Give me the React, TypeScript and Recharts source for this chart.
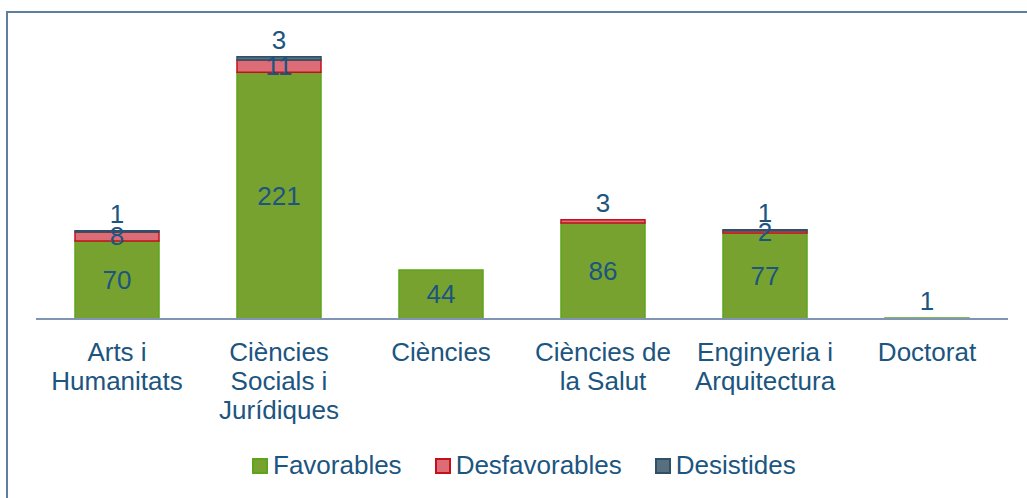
import React from "react";
import { Bar, BarChart, LabelList, XAxis, YAxis } from "recharts";

const categories = [
  "Arts i\nHumanitats",
  "Ciències\nSocials i\nJurídiques",
  "Ciències",
  "Ciències de\nla Salut",
  "Enginyeria i\nArquitectura",
  "Doctorat",
];
const favorables = [70, 221, 44, 86, 77, 1];
const desfavorables = [8, 11, 0, 3, 2, 0];
const desistides = [1, 3, 0, 0, 1, 0];

const series = [
  { key: "favorables", name: "Favorables", values: favorables, fill: "#78A22F", stroke: "#5CA41C" },
  { key: "desfavorables", name: "Desfavorables", values: desfavorables, fill: "#DC6C76", stroke: "#C4101C" },
  { key: "desistides", name: "Desistides", values: desistides, fill: "#56707F", stroke: "#2F5068" },
];

const data = categories.map((c, i) => ({
  idx: i,
  category: c,
  favorables: favorables[i],
  desfavorables: desfavorables[i],
  desistides: desistides[i],
}));

const textColor = "#1B5580";
const frameColor = "#5F7CA3";
const font = "'Liberation Sans', Arial, sans-serif";

function isTop(seriesIdx: number, i: number) {
  for (let s = seriesIdx + 1; s < series.length; s++) {
    if (series[s].values[i] > 0) return false;
  }
  return true;
}

// label value carries "value|top" so we don't depend on LabelList's index
function labelKey(seriesIdx: number) {
  return (d: any) => `${d[series[seriesIdx].key]}|${isTop(seriesIdx, d.idx) ? 1 : 0}`;
}

function renderLabel(props: any) {
  const { x, y, width, height, value } = props;
  const [v, top] = String(value).split("|");
  if (!v || v === "0") return null;
  const cx = Number(x) + Number(width) / 2;
  let cy = Number(y) + Number(height) / 2;
  if (top === "1" && Math.abs(Number(height)) < 20) {
    cy = Number(y) - 17;
  }
  return (
    <text
      x={cx}
      y={cy}
      textAnchor="middle"
      dominantBaseline="central"
      fill={textColor}
      fontSize={26}
      fontFamily={font}
    >
      {v}
    </text>
  );
}

function Tick(props: any) {
  const { x, y, payload } = props;
  const lines = String(payload.value).split("\n");
  return (
    <text x={x} y={y} textAnchor="middle" fill={textColor} fontSize={26} fontFamily={font}>
      {lines.map((l, i) => (
        <tspan key={i} x={x} y={y + 34 + i * 29}>
          {l}
        </tspan>
      ))}
    </text>
  );
}

export default function App() {
  return (
    <div
      style={{
        position: "relative",
        width: 1027,
        height: 498,
        overflow: "hidden",
        background: "#fff",
        fontFamily: font,
      }}
    >
      <style>{"body{margin:0}"}</style>
      <div style={{ position: "absolute", left: 0, top: 0 }}>
        <BarChart
          width={1027}
          height={498}
          data={data}
          margin={{ top: 40, right: 19, left: 36, bottom: 0 }}
          barSize={84}
        >
          <XAxis
            dataKey="category"
            axisLine={{ stroke: "#8094B4", strokeWidth: 2 }}
            tickLine={false}
            tick={<Tick />}
            interval={0}
            height={179}
          />
          <YAxis hide domain={[0, 250]} />
          {series.map((s, si) => (
            <Bar
              key={s.key}
              dataKey={s.key}
              name={s.name}
              stackId="a"
              fill={s.fill}
              stroke={s.stroke}
              strokeWidth={1.5}
              isAnimationActive={false}
            >
              <LabelList dataKey={labelKey(si)} content={renderLabel} />
            </Bar>
          ))}
        </BarChart>
      </div>
      <div
        style={{ position: "absolute", left: 6, top: 11, width: 2, height: 500, background: frameColor }}
      />
      <div
        style={{ position: "absolute", left: 6, top: 11, width: 1030, height: 2, background: frameColor }}
      />
      <div
        style={{
          position: "absolute",
          left: 252,
          top: 450,
          display: "flex",
          alignItems: "center",
          fontSize: 26,
          color: textColor,
          whiteSpace: "nowrap",
        }}
      >
        {series.map((s) => (
          <div key={s.key} style={{ display: "flex", alignItems: "center", marginRight: 33 }}>
            <span
              style={{
                display: "inline-block",
                width: 12,
                height: 12,
                background: s.fill,
                border: `2px solid ${s.stroke}`,
                marginRight: 5,
              }}
            />
            <span>{s.name}</span>
          </div>
        ))}
      </div>
    </div>
  );
}
